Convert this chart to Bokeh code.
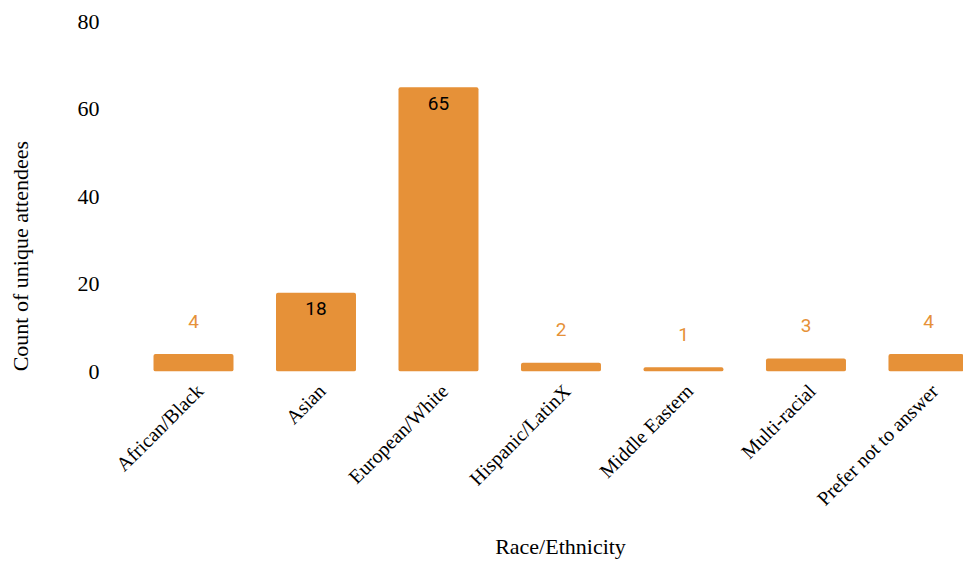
import math
from bokeh.plotting import figure
from bokeh.layouts import row, column
from bokeh.models import Range1d, FixedTicker, LinearAxis, ColumnDataSource
from bokeh.core.properties import value
from bokeh.embed import file_html
from bokeh.resources import INLINE

categories = ["African/Black", "Asian", "European/White", "Hispanic/LatinX",
              "Middle Eastern", "Multi-racial", "Prefer not to answer"]
counts = [4, 18, 65, 2, 1, 3, 4]
y_ticks = [0, 20, 40, 60, 80]
y_title = "Count of unique attendees"
x_title = "Race/Ethnicity"

BAR = "#E69138"
SERIF = "Liberation Serif"

W, H = 963, 561
LEFT_W = 60      # strip holding the y title
BOTTOM_H = 30    # strip holding the x title
MAIN_W, MAIN_H = W - LEFT_W, H - BOTTOM_H

idx = list(range(len(categories)))
x0, x1 = -0.498, 6.286
shift = 0.049


def strip(w, h):
    f = figure(width=w, height=h, output_backend="svg", toolbar_location=None,
               x_range=Range1d(0, w), y_range=Range1d(0, h),
               min_border=0, x_axis_location=None, y_axis_location=None)
    f.outline_line_color = None
    f.xgrid.visible = False
    f.ygrid.visible = False
    return f


p = figure(width=MAIN_W, height=MAIN_H, output_backend="svg", toolbar_location=None,
           x_range=Range1d(x0, x1), y_range=Range1d(0, 80),
           min_border_left=132 - LEFT_W, min_border_right=0, min_border_top=21,
           min_border_bottom=MAIN_H - 371, x_axis_location=None, y_axis_location=None)
p.outline_line_color = None
p.xgrid.visible = False
p.ygrid.visible = False
p.background_fill_color = "white"
p.border_fill_color = "white"


def bare(ax):
    ax.axis_line_color = None
    ax.major_tick_line_color = None
    ax.minor_tick_line_color = None
    ax.major_tick_out = 0
    ax.major_tick_in = 0
    ax.minor_tick_out = 0
    ax.minor_tick_in = 0


yax = LinearAxis(ticker=FixedTicker(ticks=y_ticks))
bare(yax)
yax.major_label_standoff = 33
yax.major_label_text_font = SERIF
yax.major_label_text_font_size = "22px"
yax.major_label_text_color = "#000000"
p.add_layout(yax, "left")

p.extra_x_ranges = {"lab": Range1d(x0 - shift, x1 - shift)}
xax = LinearAxis(x_range_name="lab", ticker=FixedTicker(ticks=idx),
                 major_label_overrides={i: c for i, c in zip(idx, categories)})
bare(xax)
xax.major_label_standoff = 16
xax.major_label_orientation = math.pi / 4
xax.major_label_text_font = SERIF
xax.major_label_text_font_size = "20px"
xax.major_label_text_color = "#000000"
p.add_layout(xax, "below")

src = ColumnDataSource(dict(x=idx, top=counts))
p.vbar(x="x", top="top", bottom=0, width=0.653, source=src,
       fill_color=BAR, line_color=None, border_radius=2)

inside = [i for i in idx if counts[i] >= 10]
outside = [i for i in idx if counts[i] < 10]
src_in = ColumnDataSource(dict(x=inside, y=[counts[i] for i in inside],
                               label=[str(counts[i]) for i in inside]))
src_out = ColumnDataSource(dict(x=outside, y=[counts[i] for i in outside],
                                label=[str(counts[i]) for i in outside]))
p.text(x="x", y="y", text="label", source=src_in, text_align="center",
       text_baseline="middle", y_offset=16, text_font=value("Roboto"),
       text_font_size="19px", text_color="#000000")
p.text(x="x", y="y", text="label", source=src_out, text_align="center",
       text_baseline="middle", y_offset=-33, text_font=value("Roboto"),
       text_font_size="19px", text_color=BAR)

# y title strip (left)
left = strip(LEFT_W, MAIN_H)
left.text(x=[20], y=[175], text=[y_title], angle=math.pi / 2,
          text_align="center", text_baseline="middle", text_font=value(SERIF),
          text_font_size="22px", text_color="#000000")

# x title strip (bottom)
bottom = strip(W, BOTTOM_H)
bottom.text(x=[560], y=[H - 546], text=[x_title], text_align="center",
            text_baseline="middle", text_font=value(SERIF),
            text_font_size="22px", text_color="#000000")

layout = column(row(left, p, spacing=0), bottom, spacing=0)
open("out.html", "w").write(file_html(layout, INLINE))
